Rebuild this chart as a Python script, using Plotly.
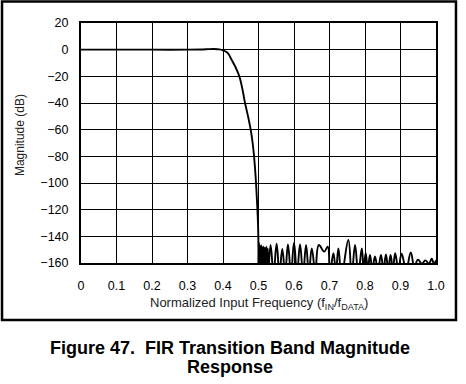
import plotly.graph_objects as go

# Transition / passband
pass_f = [0.0, 0.10, 0.20, 0.30, 0.34, 0.36, 0.375, 0.39, 0.40, 0.41, 0.417, 0.424, 0.435,
          0.446, 0.455, 0.462, 0.4705, 0.478, 0.4835, 0.4875, 0.4905, 0.493, 0.495, 0.497,
          0.4985, 0.4995, 0.5002]
pass_db = [0.0, 0.0, 0.0, 0.0, 0.1, 0.4, 0.5, 0.2, -0.5, -1.8, -3.8, -7.5, -13.0,
           -20.0, -30.0, -40.0, -50.0, -60.0, -70.0, -80.0, -90.0, -100.0, -110.0, -120.0,
           -130.0, -140.0, -163.0]

# Stopband ripple (peaks and nulls)
stop_f = [0.5002, 0.5015, 0.503, 0.5045, 0.506, 0.5075, 0.509, 0.5105, 0.512, 0.514, 0.516,
          0.518, 0.520, 0.522, 0.524, 0.526, 0.5275,
          0.534, 0.5425, 0.551, 0.559, 0.567, 0.575, 0.583, 0.5915, 0.600, 0.6085,
          0.617, 0.6255, 0.634, 0.642, 0.650, 0.660, 0.670, 0.685, 0.695, 0.701,
          0.711, 0.718, 0.725, 0.734, 0.753, 0.7625, 0.772, 0.781, 0.791, 0.796,
          0.802, 0.808, 0.814, 0.821, 0.828, 0.8365, 0.845, 0.852, 0.859, 0.8655,
          0.872, 0.8785, 0.885, 0.894, 0.903, 0.916, 0.929, 0.939, 0.949, 0.960,
          0.970, 0.980, 0.988, 0.994, 1.0]
stop_db = [-168.0, -145.0, -168.0, -147.0, -168.0, -146.5, -168.0, -148.0, -168.0, -147.5, -168.0,
           -148.5, -168.0, -147.5, -168.0, -149.0, -168.0,
           -146.5, -168.0, -145.5, -168.0, -149.5, -168.0, -146.0, -168.0, -145.0, -168.0,
           -146.0, -168.0, -146.5, -168.0, -149.0, -166.0, -146.5, -151.5, -147.7, -168.0,
           -152.7, -167.0, -149.0, -169.0, -142.7, -169.0, -146.5, -168.0, -149.0, -164.0,
           -152.7, -165.0, -154.0, -165.0, -155.0, -165.0, -154.0, -165.0, -153.5, -165.0,
           -154.0, -165.0, -152.7, -165.0, -153.0, -165.0, -152.0, -163.0, -157.5, -160.5,
           -158.0, -160.5, -156.8, -160.5, -158.0]

x_ticks = [0, 0.1, 0.2, 0.3, 0.4, 0.5, 0.6, 0.7, 0.8, 0.9, 1.0]
x_labels = ["0", "0.1", "0.2", "0.3", "0.4", "0.5", "0.6", "0.7", "0.8", "0.9", "1.0"]
y_ticks = [20, 0, -20, -40, -60, -80, -100, -120, -140, -160]
y_labels = ["20", "0", "\u221220", "\u221240", "\u221260", "\u221280", "\u2212100",
            "\u2212120", "\u2212140", "\u2212160"]

FONT = "Liberation Sans, Arial, Helvetica, sans-serif"

fig = go.Figure()
fig.add_trace(go.Scatter(x=pass_f, y=pass_db, mode="lines",
                         line=dict(color="black", width=1.9, shape="spline", smoothing=0.6),
                         showlegend=False))
fig.add_trace(go.Scatter(x=stop_f, y=stop_db, mode="lines",
                         line=dict(color="black", width=1.9, shape="spline", smoothing=1.2),
                         showlegend=False))

fig.update_layout(
    width=466, height=384, autosize=False,
    margin=dict(l=81, r=30, t=23, b=121),
    paper_bgcolor="white", plot_bgcolor="white",
    font=dict(family=FONT, size=12, color="black"),
    xaxis=dict(range=[0, 1.0], tickvals=x_ticks, ticktext=x_labels,
               showgrid=True, gridcolor="black", gridwidth=1,
               showline=True, linecolor="black", linewidth=2, mirror=True,
               ticks="", zeroline=False, ticklabelstandoff=10,
               tickfont=dict(size=12.5, color="black")),
    yaxis=dict(range=[-160, 20], tickvals=y_ticks, ticktext=y_labels,
               showgrid=True, gridcolor="black", gridwidth=1,
               showline=True, linecolor="black", linewidth=2, mirror=True,
               ticks="", zeroline=False, ticklabelstandoff=8,
               tickfont=dict(size=12.5, color="black")),
    shapes=[dict(type="rect", xref="paper", yref="paper",
                 x0=-0.2225, x1=1.0563, y0=-0.2375, y1=1.0896,
                 line=dict(color="black", width=2.5), layer="above")],
    annotations=[
        dict(text="Magnitude (dB)", xref="paper", yref="paper", x=-0.1718, y=0.533,
             textangle=-90, showarrow=False, font=dict(size=12, color="#222"),
             xanchor="center", yanchor="middle"),
        dict(text="Normalized Input Frequency (f<sub>IN</sub>/f<sub>DATA</sub>)",
             xref="paper", yref="paper", x=0.5, y=-0.1667, showarrow=False,
             font=dict(size=13, color="#222"), xanchor="center", yanchor="middle"),
        dict(text="<b>Figure 47.\u00a0 FIR Transition Band Magnitude</b>",
             xref="paper", yref="paper", x=0.4197, y=-0.354, showarrow=False,
             font=dict(size=18, color="black"), xanchor="center", yanchor="middle"),
        dict(text="<b>Response</b>",
             xref="paper", yref="paper", x=0.4197, y=-0.433, showarrow=False,
             font=dict(size=18, color="black"), xanchor="center", yanchor="middle"),
    ],
)

fig.write_html("out.html", config={"displayModeBar": False},
               post_script="document.body.style.margin='0';document.body.style.overflow='hidden';")
